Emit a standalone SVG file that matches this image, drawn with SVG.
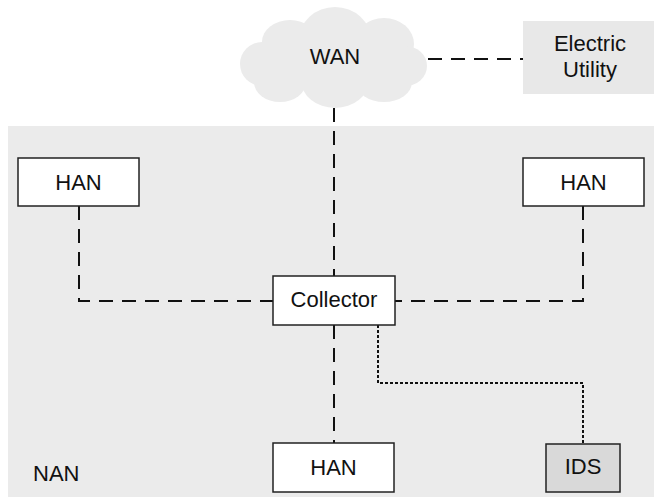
<svg xmlns="http://www.w3.org/2000/svg" width="654" height="497" viewBox="0 0 654 497">
<style>
text{font-family:"Liberation Sans",Arial,sans-serif;font-size:22px;fill:#111;text-anchor:middle}
.box{fill:#fff;stroke:#222;stroke-width:1.5}
.dash{fill:none;stroke:#111;stroke-width:2;stroke-dasharray:14 9}
.dot{fill:none;stroke:#111;stroke-width:2;stroke-dasharray:3 2}
</style>
<rect width="654" height="497" fill="#fff"/>
<g id="nan">
<rect x="8" y="126" width="646" height="371" fill="#ebebeb"/>
<text x="33" y="481" style="text-anchor:start">NAN</text>
</g>
<g id="wan">
<g fill="#ebebeb">
<ellipse cx="262" cy="64" rx="22" ry="22"/>
<ellipse cx="290" cy="42" rx="28" ry="22"/>
<ellipse cx="335" cy="40" rx="36" ry="33"/>
<ellipse cx="384" cy="44" rx="30" ry="26"/>
<ellipse cx="405" cy="66" rx="22" ry="20"/>
<ellipse cx="280" cy="82" rx="26" ry="20"/>
<ellipse cx="335" cy="80" rx="34" ry="28"/>
<ellipse cx="384" cy="82" rx="28" ry="20"/>
<rect x="262" y="45" width="143" height="45"/>
</g>
<text x="335" y="64">WAN</text>
</g>
<g id="utility">
<rect x="523" y="21" width="131" height="73" fill="#e8e8e8"/>
<text x="590" y="51">Electric</text>
<text x="590" y="77">Utility</text>
</g>
<g id="connectors">
<path class="dash" d="M428 59H523"/>
<path class="dash" d="M334 108V276"/>
<path class="dash" d="M79 206V301H273"/>
<path class="dash" d="M583 206V301H395"/>
<path class="dash" d="M334 325V443"/>
<path class="dot" d="M378 325V383H583V444"/>
</g>
<g id="han-left">
<rect class="box" x="18" y="158" width="121" height="48"/>
<text x="78.5" y="189.5">HAN</text>
</g>
<g id="han-right">
<rect class="box" x="523" y="158" width="121" height="48"/>
<text x="583.5" y="189.5">HAN</text>
</g>
<g id="collector">
<rect class="box" x="273" y="276" width="122" height="49"/>
<text x="334" y="307">Collector</text>
</g>
<g id="han-bottom">
<rect class="box" x="273" y="443" width="121" height="49"/>
<text x="333.5" y="475">HAN</text>
</g>
<g id="ids">
<rect class="box" x="546" y="444" width="74" height="48" style="fill:#d9d9d9"/>
<text x="583" y="474">IDS</text>
</g>
</svg>
